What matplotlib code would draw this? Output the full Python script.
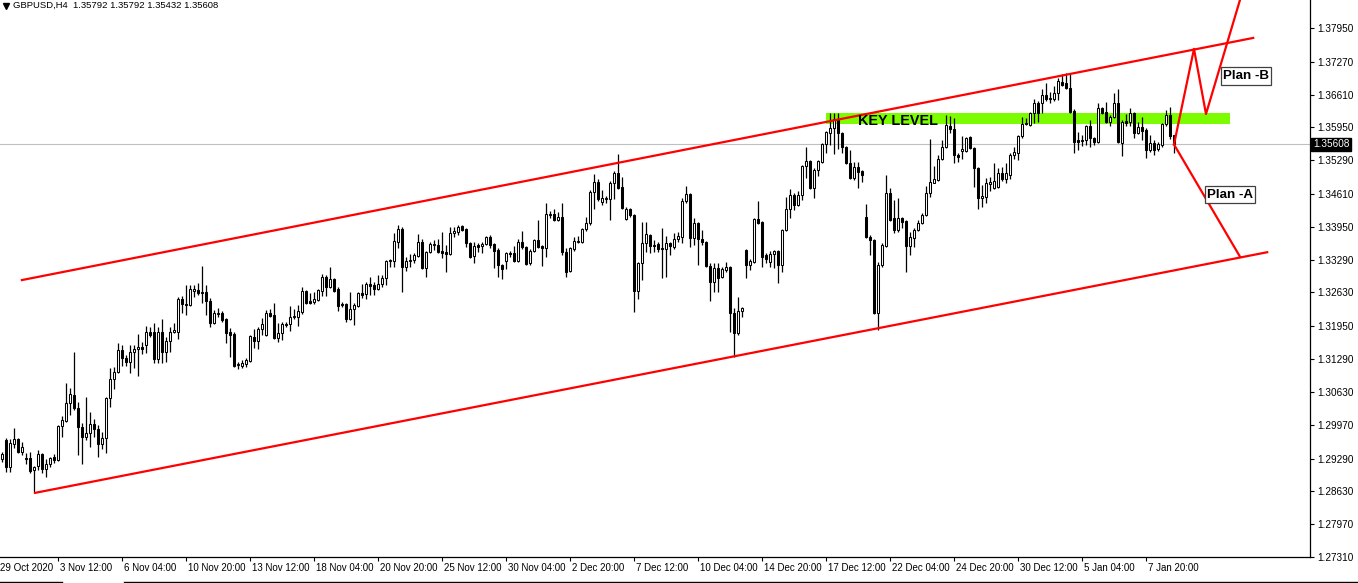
import numpy as np
import matplotlib
matplotlib.use("Agg")
import matplotlib.pyplot as plt
import matplotlib.transforms as mtransforms
from matplotlib.patches import Rectangle
from matplotlib.lines import Line2D

# GBPUSD H4 candles (one entry per bar)
opens = [
    1.2928, 1.2967, 1.2912, 1.2959, 1.2969, 1.2942, 1.2930, 1.2930, 1.2906, 1.2914,
    1.2938, 1.2908, 1.2918, 1.2932, 1.2926, 1.2995, 1.3005, 1.3041, 1.3057, 1.3031,
    1.2993, 1.2973, 1.2981, 1.2999, 1.2989, 1.2959, 1.2971, 1.3051, 1.3089, 1.3103,
    1.3147, 1.3131, 1.3123, 1.3143, 1.3149, 1.3153, 1.3157, 1.3184, 1.3184, 1.3129,
    1.3184, 1.3143, 1.3166, 1.3184, 1.3184, 1.3250, 1.3240, 1.3238, 1.3266, 1.3268,
    1.3264, 1.3264, 1.3246, 1.3202, 1.3220, 1.3222, 1.3210, 1.3184, 1.3180, 1.3117,
    1.3115, 1.3119, 1.3125, 1.3174, 1.3166, 1.3190, 1.3178, 1.3222, 1.3218, 1.3172,
    1.3182, 1.3198, 1.3200, 1.3214, 1.3214, 1.3224, 1.3266, 1.3246, 1.3244, 1.3248,
    1.3266, 1.3294, 1.3274, 1.3290, 1.3270, 1.3240, 1.3240, 1.3210, 1.3230, 1.3236,
    1.3262, 1.3260, 1.3280, 1.3278, 1.3270, 1.3280, 1.3292, 1.3326, 1.3326, 1.3365,
    1.3391, 1.3314, 1.3326, 1.3328, 1.3336, 1.3365, 1.3312, 1.3344, 1.3359, 1.3359,
    1.3346, 1.3344, 1.3340, 1.3383, 1.3385, 1.3397, 1.3391, 1.3363, 1.3336, 1.3359,
    1.3357, 1.3361, 1.3375, 1.3361, 1.3349, 1.3318, 1.3326, 1.3342, 1.3342, 1.3326,
    1.3365, 1.3355, 1.3322, 1.3346, 1.3369, 1.3357, 1.3353, 1.3419, 1.3421, 1.3409,
    1.3415, 1.3344, 1.3306, 1.3351, 1.3365, 1.3365, 1.3391, 1.3403, 1.3465, 1.3485,
    1.3445, 1.3451, 1.3451, 1.3483, 1.3503, 1.3475, 1.3411, 1.3431, 1.3419, 1.3266,
    1.3322, 1.3363, 1.3379, 1.3359, 1.3361, 1.3353, 1.3351, 1.3363, 1.3355, 1.3371,
    1.3375, 1.3447, 1.3461, 1.3373, 1.3403, 1.3371, 1.3365, 1.3316, 1.3284, 1.3312,
    1.3294, 1.3308, 1.3314, 1.3222, 1.3182, 1.3226, 1.3349, 1.3318, 1.3324, 1.3411,
    1.3405, 1.3338, 1.3324, 1.3340, 1.3346, 1.3318, 1.3389, 1.3431, 1.3459, 1.3439,
    1.3459, 1.3517, 1.3527, 1.3473, 1.3509, 1.3525, 1.3561, 1.3584, 1.3594, 1.3612,
    1.3584, 1.3555, 1.3523, 1.3493, 1.3515, 1.3507, 1.3415, 1.3375, 1.3369, 1.3222,
    1.3318, 1.3357, 1.3463, 1.3413, 1.3389, 1.3413, 1.3407, 1.3357, 1.3373, 1.3389,
    1.3403, 1.3419, 1.3463, 1.3483, 1.3489, 1.3531, 1.3555, 1.3598, 1.3592, 1.3539,
    1.3547, 1.3547, 1.3576, 1.3553, 1.3513, 1.3453, 1.3455, 1.3481, 1.3473, 1.3475,
    1.3503, 1.3491, 1.3499, 1.3539, 1.3543, 1.3578, 1.3602, 1.3600, 1.3624, 1.3644,
    1.3644, 1.3660, 1.3652, 1.3652, 1.3664, 1.3686, 1.3684, 1.3674, 1.3628, 1.3570,
    1.3568, 1.3570, 1.3598, 1.3574, 1.3566, 1.3634, 1.3626, 1.3606, 1.3616, 1.3644,
    1.3564, 1.3608, 1.3606, 1.3624, 1.3584, 1.3596, 1.3590, 1.3549, 1.3563, 1.3551,
    1.3559, 1.3602, 1.3620, 1.35792]

highs = [
    1.2942, 1.2971, 1.2969, 1.2991, 1.2971, 1.2963, 1.2940, 1.2942, 1.2914, 1.2946,
    1.2940, 1.2928, 1.2932, 1.2938, 1.2997, 1.3015, 1.3081, 1.3071, 1.3143, 1.3043,
    1.3001, 1.3053, 1.3023, 1.3009, 1.2997, 1.2983, 1.3053, 1.3111, 1.3113, 1.3161,
    1.3157, 1.3137, 1.3157, 1.3157, 1.3180, 1.3164, 1.3196, 1.3194, 1.3202, 1.3194,
    1.3210, 1.3174, 1.3194, 1.3202, 1.3254, 1.3256, 1.3278, 1.3278, 1.3278, 1.3282,
    1.3316, 1.3278, 1.3252, 1.3228, 1.3232, 1.3226, 1.3212, 1.3192, 1.3184, 1.3123,
    1.3127, 1.3131, 1.3178, 1.3190, 1.3194, 1.3212, 1.3228, 1.3230, 1.3242, 1.3202,
    1.3204, 1.3204, 1.3236, 1.3230, 1.3238, 1.3274, 1.3268, 1.3262, 1.3264, 1.3270,
    1.3300, 1.3298, 1.3314, 1.3292, 1.3274, 1.3244, 1.3242, 1.3264, 1.3242, 1.3264,
    1.3280, 1.3284, 1.3294, 1.3284, 1.3298, 1.3298, 1.3328, 1.3330, 1.3383, 1.3399,
    1.3395, 1.3334, 1.3340, 1.3342, 1.3381, 1.3371, 1.3346, 1.3365, 1.3369, 1.3371,
    1.3385, 1.3359, 1.3395, 1.3395, 1.3399, 1.3399, 1.3393, 1.3365, 1.3365, 1.3363,
    1.3365, 1.3377, 1.3379, 1.3363, 1.3353, 1.3320, 1.3344, 1.3346, 1.3357, 1.3371,
    1.3387, 1.3357, 1.3351, 1.3371, 1.3409, 1.3359, 1.3443, 1.3427, 1.3431, 1.3425,
    1.3443, 1.3353, 1.3355, 1.3375, 1.3377, 1.3393, 1.3415, 1.3469, 1.3501, 1.3491,
    1.3469, 1.3457, 1.3487, 1.3507, 1.3541, 1.3495, 1.3435, 1.3433, 1.3421, 1.3324,
    1.3405, 1.3405, 1.3381, 1.3369, 1.3365, 1.3393, 1.3377, 1.3365, 1.3383, 1.3385,
    1.3453, 1.3477, 1.3463, 1.3413, 1.3405, 1.3389, 1.3367, 1.3322, 1.3322, 1.3322,
    1.3314, 1.3324, 1.3316, 1.3232, 1.3254, 1.3234, 1.3351, 1.3330, 1.3413, 1.3447,
    1.3407, 1.3342, 1.3346, 1.3349, 1.3349, 1.3391, 1.3455, 1.3471, 1.3463, 1.3467,
    1.3519, 1.3555, 1.3529, 1.3513, 1.3529, 1.3563, 1.3588, 1.3624, 1.3624, 1.3624,
    1.3586, 1.3557, 1.3549, 1.3525, 1.3525, 1.3509, 1.3441, 1.3379, 1.3371, 1.3324,
    1.3363, 1.3499, 1.3473, 1.3449, 1.3453, 1.3415, 1.3409, 1.3385, 1.3393, 1.3409,
    1.3423, 1.3477, 1.3572, 1.3517, 1.3539, 1.3570, 1.3620, 1.3618, 1.3614, 1.3543,
    1.3578, 1.3576, 1.3578, 1.3555, 1.3515, 1.3479, 1.3493, 1.3495, 1.3523, 1.3513,
    1.3515, 1.3523, 1.3543, 1.3555, 1.3580, 1.3616, 1.3614, 1.3626, 1.3652, 1.3648,
    1.3672, 1.3684, 1.3666, 1.3678, 1.3694, 1.3702, 1.3704, 1.3704, 1.3632, 1.3586,
    1.3580, 1.3600, 1.3610, 1.3576, 1.3644, 1.3636, 1.3646, 1.3620, 1.3664, 1.3672,
    1.3610, 1.3622, 1.3634, 1.3626, 1.3606, 1.3616, 1.3594, 1.3580, 1.3570, 1.3565,
    1.3604, 1.3630, 1.3636, 1.35792]

lows = [
    1.2922, 1.2902, 1.2902, 1.2951, 1.2940, 1.2936, 1.2918, 1.2900, 1.2860, 1.2906,
    1.2900, 1.2892, 1.2912, 1.2920, 1.2924, 1.2973, 1.3003, 1.3017, 1.3027, 1.2936,
    1.2918, 1.2967, 1.2952, 1.2973, 1.2932, 1.2948, 1.2940, 1.3033, 1.3069, 1.3101,
    1.3115, 1.3115, 1.3101, 1.3111, 1.3095, 1.3139, 1.3141, 1.3174, 1.3121, 1.3121,
    1.3121, 1.3123, 1.3143, 1.3182, 1.3170, 1.3222, 1.3218, 1.3236, 1.3254, 1.3258,
    1.3242, 1.3218, 1.3194, 1.3200, 1.3214, 1.3204, 1.3161, 1.3133, 1.3113, 1.3109,
    1.3111, 1.3113, 1.3123, 1.3151, 1.3149, 1.3178, 1.3176, 1.3214, 1.3170, 1.3164,
    1.3168, 1.3194, 1.3186, 1.3210, 1.3196, 1.3220, 1.3240, 1.3240, 1.3240, 1.3246,
    1.3256, 1.3256, 1.3272, 1.3264, 1.3226, 1.3234, 1.3204, 1.3208, 1.3198, 1.3234,
    1.3252, 1.3250, 1.3258, 1.3258, 1.3268, 1.3274, 1.3278, 1.3314, 1.3314, 1.3353,
    1.3264, 1.3306, 1.3314, 1.3322, 1.3334, 1.3310, 1.3294, 1.3342, 1.3349, 1.3342,
    1.3332, 1.3304, 1.3338, 1.3375, 1.3379, 1.3387, 1.3355, 1.3332, 1.3322, 1.3344,
    1.3342, 1.3359, 1.3353, 1.3312, 1.3294, 1.3290, 1.3310, 1.3334, 1.3324, 1.3324,
    1.3351, 1.3318, 1.3318, 1.3344, 1.3353, 1.3316, 1.3334, 1.3413, 1.3407, 1.3407,
    1.3338, 1.3294, 1.3304, 1.3346, 1.3363, 1.3363, 1.3387, 1.3399, 1.3431, 1.3447,
    1.3439, 1.3443, 1.3409, 1.3451, 1.3471, 1.3431, 1.3409, 1.3415, 1.3224, 1.3250,
    1.3288, 1.3344, 1.3342, 1.3344, 1.3344, 1.3292, 1.3294, 1.3338, 1.3351, 1.3365,
    1.3363, 1.3443, 1.3355, 1.3359, 1.3318, 1.3359, 1.3314, 1.3246, 1.3264, 1.3264,
    1.3292, 1.3304, 1.3184, 1.3133, 1.3178, 1.3214, 1.3292, 1.3308, 1.3322, 1.3401,
    1.3314, 1.3322, 1.3314, 1.3312, 1.3282, 1.3304, 1.3387, 1.3413, 1.3429, 1.3437,
    1.3449, 1.3493, 1.3471, 1.3453, 1.3497, 1.3523, 1.3543, 1.3559, 1.3541, 1.3551,
    1.3543, 1.3521, 1.3491, 1.3489, 1.3473, 1.3485, 1.3373, 1.3338, 1.3220, 1.3188,
    1.3314, 1.3355, 1.3407, 1.3383, 1.3385, 1.3393, 1.3304, 1.3338, 1.3355, 1.3387,
    1.3401, 1.3417, 1.3455, 1.3483, 1.3487, 1.3529, 1.3553, 1.3584, 1.3523, 1.3525,
    1.3531, 1.3545, 1.3551, 1.3475, 1.3431, 1.3435, 1.3443, 1.3467, 1.3471, 1.3473,
    1.3487, 1.3483, 1.3491, 1.3531, 1.3529, 1.3574, 1.3600, 1.3598, 1.3604, 1.3606,
    1.3624, 1.3648, 1.3644, 1.3648, 1.3650, 1.3678, 1.3672, 1.3624, 1.3543, 1.3549,
    1.3558, 1.3560, 1.3555, 1.3560, 1.3564, 1.3622, 1.3604, 1.3598, 1.3614, 1.3564,
    1.3537, 1.3598, 1.3598, 1.3574, 1.3582, 1.3570, 1.3533, 1.3545, 1.3539, 1.3547,
    1.3555, 1.3598, 1.3572, 1.35432]

closes = [
    1.2938, 1.2912, 1.2961, 1.2969, 1.2942, 1.2952, 1.2928, 1.2904, 1.2912, 1.2938,
    1.2908, 1.2918, 1.2930, 1.2926, 1.2995, 1.3007, 1.3041, 1.3059, 1.3031, 1.2993,
    1.2973, 1.2981, 1.2999, 1.2989, 1.2959, 1.2971, 1.3051, 1.3089, 1.3103, 1.3147,
    1.3131, 1.3123, 1.3143, 1.3149, 1.3153, 1.3149, 1.3184, 1.3178, 1.3129, 1.3184,
    1.3143, 1.3166, 1.3184, 1.3188, 1.3250, 1.3240, 1.3238, 1.3270, 1.3270, 1.3262,
    1.3262, 1.3246, 1.3202, 1.3222, 1.3222, 1.3208, 1.3182, 1.3178, 1.3115, 1.3119,
    1.3121, 1.3127, 1.3176, 1.3166, 1.3190, 1.3200, 1.3222, 1.3216, 1.3172, 1.3182,
    1.3200, 1.3200, 1.3214, 1.3216, 1.3226, 1.3266, 1.3242, 1.3242, 1.3250, 1.3268,
    1.3294, 1.3274, 1.3290, 1.3266, 1.3236, 1.3238, 1.3210, 1.3230, 1.3238, 1.3262,
    1.3258, 1.3280, 1.3276, 1.3270, 1.3280, 1.3292, 1.3326, 1.3328, 1.3367, 1.3391,
    1.3314, 1.3326, 1.3328, 1.3338, 1.3365, 1.3312, 1.3344, 1.3361, 1.3361, 1.3344,
    1.3342, 1.3340, 1.3383, 1.3387, 1.3395, 1.3389, 1.3363, 1.3334, 1.3357, 1.3355,
    1.3361, 1.3375, 1.3359, 1.3346, 1.3318, 1.3310, 1.3342, 1.3340, 1.3326, 1.3365,
    1.3355, 1.3320, 1.3346, 1.3369, 1.3355, 1.3353, 1.3421, 1.3421, 1.3409, 1.3415,
    1.3344, 1.3304, 1.3353, 1.3367, 1.3367, 1.3391, 1.3403, 1.3465, 1.3485, 1.3451,
    1.3453, 1.3453, 1.3483, 1.3503, 1.3473, 1.3433, 1.3431, 1.3419, 1.3266, 1.3322,
    1.3363, 1.3381, 1.3357, 1.3357, 1.3351, 1.3351, 1.3363, 1.3357, 1.3371, 1.3377,
    1.3447, 1.3461, 1.3373, 1.3403, 1.3371, 1.3365, 1.3316, 1.3284, 1.3312, 1.3292,
    1.3310, 1.3314, 1.3222, 1.3182, 1.3226, 1.3232, 1.3318, 1.3326, 1.3411, 1.3403,
    1.3334, 1.3330, 1.3340, 1.3346, 1.3318, 1.3389, 1.3431, 1.3459, 1.3439, 1.3459,
    1.3517, 1.3527, 1.3473, 1.3509, 1.3527, 1.3561, 1.3586, 1.3594, 1.3612, 1.3584,
    1.3555, 1.3523, 1.3493, 1.3515, 1.3505, 1.3499, 1.3375, 1.3369, 1.3222, 1.3318,
    1.3359, 1.3463, 1.3409, 1.3389, 1.3413, 1.3405, 1.3357, 1.3375, 1.3389, 1.3403,
    1.3419, 1.3463, 1.3485, 1.3491, 1.3531, 1.3555, 1.3600, 1.3592, 1.3539, 1.3535,
    1.3551, 1.3574, 1.3553, 1.3513, 1.3453, 1.3457, 1.3483, 1.3485, 1.3487, 1.3503,
    1.3491, 1.3503, 1.3539, 1.3545, 1.3578, 1.3602, 1.3604, 1.3624, 1.3644, 1.3624,
    1.3660, 1.3652, 1.3654, 1.3664, 1.3688, 1.3680, 1.3674, 1.3626, 1.3566, 1.3566,
    1.3570, 1.3598, 1.3574, 1.3566, 1.3634, 1.3624, 1.3606, 1.3616, 1.3644, 1.3566,
    1.3606, 1.3604, 1.3624, 1.3584, 1.3596, 1.3588, 1.3549, 1.3563, 1.3549, 1.3561,
    1.3602, 1.3620, 1.3578, 1.35608]

price_ticks = [1.37950, 1.37270, 1.36610, 1.35950, 1.35290, 1.34610, 1.33950,
               1.33290, 1.32630, 1.31950, 1.31290, 1.30630, 1.29970, 1.29290,
               1.28630, 1.27970, 1.27310]
date_labels = ["29 Oct 2020", "3 Nov 12:00", "6 Nov 04:00", "10 Nov 20:00",
               "13 Nov 12:00", "18 Nov 04:00", "20 Nov 20:00", "25 Nov 12:00",
               "30 Nov 04:00", "2 Dec 20:00", "7 Dec 12:00", "10 Dec 04:00",
               "14 Dec 20:00", "17 Dec 12:00", "22 Dec 04:00", "24 Dec 20:00",
               "30 Dec 12:00", "5 Jan 04:00", "7 Jan 20:00"]
date_bars = [-1.0] + [14 + 16 * k for k in range(18)]

header = "GBPUSD,H4  1.35792 1.35792 1.35432 1.35608"
last_price = 1.35608

# trend channel and scenario drawings (bar index, price)
upper_x, upper_y = [4.9, 312.7], [1.3288, 1.3775]
lower_x, lower_y = [8.2, 316.2], [1.2860, 1.3344]
plan_b_x, plan_b_y = [292.9, 297.9, 300.9, 309.9], [1.35608, 1.3753, 1.3622, 1.3865]
plan_a_x, plan_a_y = [292.9, 309.4], [1.35608, 1.3335]
key_x0, key_x1, key_lo, key_hi = 205.9, 306.9, 1.36016, 1.36238
box_b = (304.7, 317.2, 1.36801, 1.37163)
box_a = (300.7, 313.2, 1.34428, 1.34770)

assert len(opens) == len(highs) == len(lows) == len(closes)

W, H = 1358, 583
plt.rcParams['font.family'] = ['Liberation Sans', 'DejaVu Sans']
fig = plt.figure(figsize=(W / 100, H / 100), dpi=100)
fig.patch.set_facecolor('white')
ax = fig.add_axes([0, 26 / H, 1310 / W, 557 / H])
ax.set_xlim(-0.575, 326.9)
ax.set_ylim(1.27311, 1.38513)

o = np.array(opens); c = np.array(closes)
hi = np.maximum(np.array(highs), np.maximum(o, c))
lo = np.minimum(np.array(lows), np.minimum(o, c))
idx = np.arange(len(o))
bull = c > o

ax.axhline(last_price, color='#c0c0c0', lw=0.8, zorder=0.5)
ax.add_patch(Rectangle((key_x0, key_lo), key_x1 - key_x0, key_hi - key_lo,
                       facecolor='#7cfc00', edgecolor='none', zorder=1))

ax.vlines(idx, lo, hi, colors='black', lw=0.9, zorder=2)
ax.bar(idx, np.abs(c - o), bottom=np.minimum(o, c), width=0.5,
       color=np.where(bull, 'white', 'black'), edgecolor='black',
       linewidth=0.75, zorder=3)

red = '#ff0000'
ax.plot(upper_x, upper_y, color=red, lw=1.6, zorder=4)
ax.plot(lower_x, lower_y, color=red, lw=1.6, zorder=4)
ax.plot(plan_b_x, plan_b_y, color=red, lw=1.6, zorder=4)
ax.plot(plan_a_x, plan_a_y, color=red, lw=1.6, zorder=4)

ax.text(213.9, 1.36077, "KEY LEVEL", fontsize=10.4, fontweight='bold',
        ha='left', va='center', zorder=6)

for (x0, x1, y0, y1), label in [(box_b, "Plan -B"), (box_a, "Plan -A")]:
    ax.add_patch(Rectangle((x0, y0), x1 - x0, y1 - y0, facecolor='white',
                           edgecolor='#404040', lw=0.9, zorder=5))
    ax.text(x0 + 0.4, (y0 + y1) / 2, label, fontsize=9.6, fontweight='bold',
            ha='left', va='center', zorder=6)

# axes frame like the terminal: only right and bottom
for s in ['top', 'left']:
    ax.spines[s].set_visible(False)
for s in ['right', 'bottom']:
    ax.spines[s].set_linewidth(0.9)
ax.yaxis.tick_right()
ax.set_yticks(price_ticks)
ax.set_yticklabels([f"{p:.5f}" for p in price_ticks])
ax.tick_params(axis='y', direction='out', length=2.9, width=0.8, pad=2.2,
               labelsize=7.2)
ax.set_xticks(date_bars[1:])
ax.set_xticklabels([])
ax.tick_params(axis='x', direction='out', length=2.9, width=0.8)

trans = mtransforms.blended_transform_factory(ax.transData, ax.transAxes)
for b, lab in zip(date_bars, date_labels):
    ax.text(b + 0.5, -11 / 557, lab, transform=trans, fontsize=7.0,
            ha='left', va='center', clip_on=False)

fig.text(1313 / W, 1 - 144.5 / H, f"{last_price:.5f}", color='white',
         fontsize=7.2, ha='left', va='center',
         bbox=dict(boxstyle='square,pad=0.18', fc='black', ec='black'))

fig.text(13 / W, 1 - 5.5 / H, header, fontsize=6.8, ha='left', va='center')
fig.add_artist(Line2D([5.5 / W], [1 - 5.5 / H], marker='v', ms=5,
                      color='black', transform=fig.transFigure))
fig.add_artist(Line2D([0, 62 / W], [1.2 / H, 1.2 / H], color='black', lw=1,
                      transform=fig.transFigure))
fig.add_artist(Line2D([124 / W, 1], [1.2 / H, 1.2 / H], color='black', lw=1,
                      transform=fig.transFigure))

fig.savefig("out.png", dpi=100)
